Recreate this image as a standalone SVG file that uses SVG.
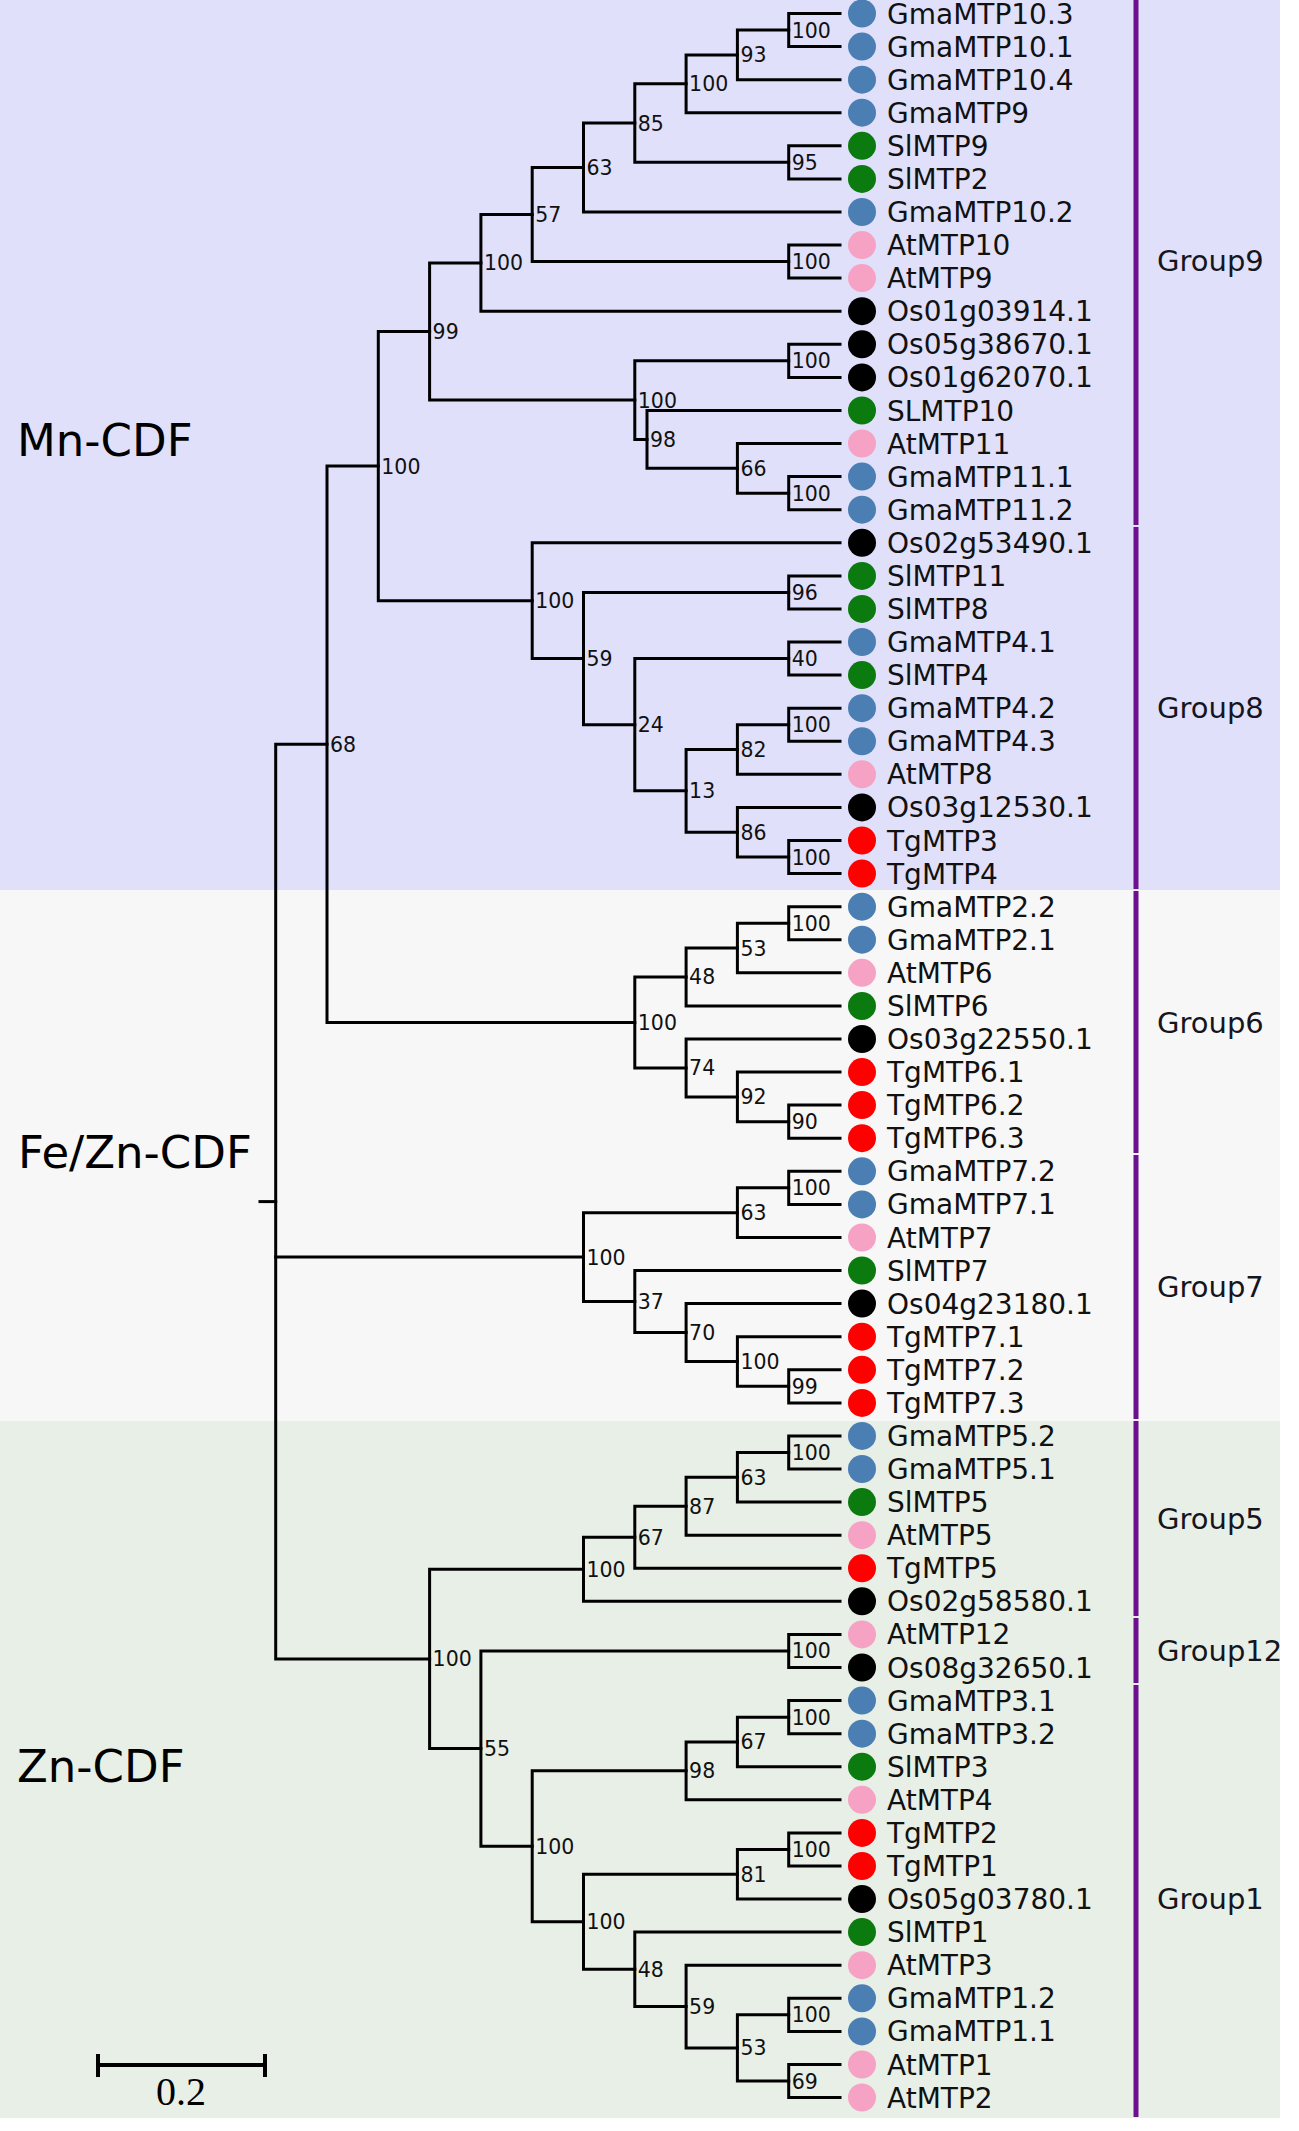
<svg xmlns="http://www.w3.org/2000/svg" width="1299" height="2131" viewBox="0 0 1299 2131">
<style>
.br{fill:none;stroke:#000;stroke-width:3;stroke-linecap:square}
.bs{font-family:"DejaVu Sans",sans-serif;font-size:20.5px;fill:#111}
.lb{font-family:"DejaVu Sans",sans-serif;font-size:28px;fill:#111}
.gl{font-family:"DejaVu Sans",sans-serif;font-size:29px;fill:#151520}
.cl{font-family:"DejaVu Sans",sans-serif;font-size:45px;fill:#000}
.B{fill:#4b7fb4}.G{fill:#0b7b0f}.P{fill:#f6a2c4}.K{fill:#000}.R{fill:#fe0000}
.pl{stroke:#6c1090;stroke-width:5}
</style>
<rect x="0" y="0" width="1299" height="2131" fill="#ffffff"/>
<g id="bands">
<rect x="0" y="0" width="1280" height="890" fill="#e0e0fb"/>
<rect x="0" y="890" width="1280" height="531" fill="#f8f7f7"/>
<rect x="0" y="1421" width="1280" height="697" fill="#e8efe6"/>
</g>
<g id="clade-labels">
<text class="cl" x="17" y="456">Mn-CDF</text>
<text class="cl" x="18" y="1168">Fe/Zn-CDF</text>
<text class="cl" x="17" y="1782">Zn-CDF</text>
</g>
<g id="group-bars">
<line class="pl" x1="1136" y1="0" x2="1136" y2="525"/>
<line class="pl" x1="1136" y1="527" x2="1136" y2="889"/>
<line class="pl" x1="1136" y1="891" x2="1136" y2="1153"/>
<line class="pl" x1="1136" y1="1155" x2="1136" y2="1419"/>
<line class="pl" x1="1136" y1="1421" x2="1136" y2="1616"/>
<line class="pl" x1="1136" y1="1618" x2="1136" y2="1683"/>
<line class="pl" x1="1136" y1="1685" x2="1136" y2="2117"/>
</g>
<g id="group-labels">
<text class="gl" x="1157" y="271">Group9</text>
<text class="gl" x="1157" y="718">Group8</text>
<text class="gl" x="1157" y="1033">Group6</text>
<text class="gl" x="1157" y="1297">Group7</text>
<text class="gl" x="1157" y="1529">Group5</text>
<text class="gl" x="1157" y="1661">Group12</text>
<text class="gl" x="1157" y="1909">Group1</text>
</g>
<g id="connectors" class="br">
<path d="M840 13.5H788.7V46.6H840"/>
<path d="M788.7 30.05H737.4V79.7H840"/>
<path d="M737.4 54.9H686.1V112.7H840"/>
<path d="M840 145.8H788.7V178.9H840"/>
<path d="M686.1 83.8H634.8V162.35H788.7"/>
<path d="M634.8 123.1H583.5V212H840"/>
<path d="M840 245.1H788.7V278.1H840"/>
<path d="M583.5 167.55H532.2V261.6H788.7"/>
<path d="M532.2 214.6H480.9V311.2H840"/>
<path d="M840 344.3H788.7V377.4H840"/>
<path d="M840 476.6H788.7V509.7H840"/>
<path d="M840 443.5H737.4V493.15H788.7"/>
<path d="M840 410.5H647V468.3H737.4"/>
<path d="M788.7 360.85H634.8V439.4H647"/>
<path d="M480.9 262.9H429.6V400.1H634.8"/>
<path d="M840 575.9H788.7V608.9H840"/>
<path d="M840 642H788.7V675.1H840"/>
<path d="M840 708.2H788.7V741.3H840"/>
<path d="M788.7 724.75H737.4V774.3H840"/>
<path d="M840 840.5H788.7V873.6H840"/>
<path d="M840 807.4H737.4V857.05H788.7"/>
<path d="M737.4 749.5H686.1V832.2H737.4"/>
<path d="M788.7 658.55H634.8V790.85H686.1"/>
<path d="M788.7 592.4H583.5V724.7H634.8"/>
<path d="M840 542.8H532.2V658.55H583.5"/>
<path d="M429.6 331.5H378.3V600.7H532.2"/>
<path d="M840 906.7H788.7V939.7H840"/>
<path d="M788.7 923.2H737.4V972.8H840"/>
<path d="M737.4 948H686.1V1005.9H840"/>
<path d="M840 1105.1H788.7V1138.2H840"/>
<path d="M840 1072.1H737.4V1121.65H788.7"/>
<path d="M840 1039H686.1V1096.9H737.4"/>
<path d="M686.1 976.95H634.8V1067.95H686.1"/>
<path d="M378.3 466.1H327V1022.45H634.8"/>
<path d="M840 1171.3H788.7V1204.4H840"/>
<path d="M788.7 1187.85H737.4V1237.5H840"/>
<path d="M840 1369.8H788.7V1402.9H840"/>
<path d="M840 1336.7H737.4V1386.35H788.7"/>
<path d="M840 1303.6H686.1V1361.5H737.4"/>
<path d="M840 1270.5H634.8V1332.55H686.1"/>
<path d="M737.4 1212.7H583.5V1301.5H634.8"/>
<path d="M840 1435.9H788.7V1469H840"/>
<path d="M788.7 1452.45H737.4V1502.1H840"/>
<path d="M737.4 1477.3H686.1V1535.2H840"/>
<path d="M686.1 1506.25H634.8V1568.3H840"/>
<path d="M634.8 1537.3H583.5V1601.3H840"/>
<path d="M840 1634.4H788.7V1667.5H840"/>
<path d="M840 1700.6H788.7V1733.7H840"/>
<path d="M788.7 1717.15H737.4V1766.7H840"/>
<path d="M737.4 1741.9H686.1V1799.8H840"/>
<path d="M840 1832.9H788.7V1866H840"/>
<path d="M788.7 1849.45H737.4V1899.1H840"/>
<path d="M840 1998.3H788.7V2031.4H840"/>
<path d="M840 2064.5H788.7V2097.5H840"/>
<path d="M788.7 2014.85H737.4V2081H788.7"/>
<path d="M840 1965.2H686.1V2047.9H737.4"/>
<path d="M840 1932.1H634.8V2006.55H686.1"/>
<path d="M737.4 1874.3H583.5V1969.3H634.8"/>
<path d="M686.1 1770.85H532.2V1921.8H583.5"/>
<path d="M788.7 1650.95H480.9V1846.3H532.2"/>
<path d="M583.5 1569.3H429.6V1748.6H480.9"/>
<path d="M327 744.3H275.7V1658.95H429.6"/>
<path d="M275.7 1257.1H583.5"/>
<path d="M260 1201.6H275.7"/>
</g>
<g id="bootstrap" class="bs">
<text x="791.7" y="37.55">100</text>
<text x="740.4" y="62.4">93</text>
<text x="689.1" y="91.3">100</text>
<text x="791.7" y="169.85">95</text>
<text x="637.8" y="130.6">85</text>
<text x="586.5" y="175.05">63</text>
<text x="791.7" y="269.1">100</text>
<text x="535.2" y="222.1">57</text>
<text x="483.9" y="270.4">100</text>
<text x="791.7" y="368.35">100</text>
<text x="791.7" y="500.65">100</text>
<text x="740.4" y="475.8">66</text>
<text x="650" y="446.9">98</text>
<text x="637.8" y="407.6">100</text>
<text x="432.6" y="339">99</text>
<text x="791.7" y="599.9">96</text>
<text x="791.7" y="666.05">40</text>
<text x="791.7" y="732.25">100</text>
<text x="740.4" y="757">82</text>
<text x="791.7" y="864.55">100</text>
<text x="740.4" y="839.7">86</text>
<text x="689.1" y="798.35">13</text>
<text x="637.8" y="732.2">24</text>
<text x="586.5" y="666.05">59</text>
<text x="535.2" y="608.2">100</text>
<text x="381.3" y="473.6">100</text>
<text x="791.7" y="930.7">100</text>
<text x="740.4" y="955.5">53</text>
<text x="689.1" y="984.45">48</text>
<text x="791.7" y="1129.15">90</text>
<text x="740.4" y="1104.4">92</text>
<text x="689.1" y="1075.45">74</text>
<text x="637.8" y="1029.95">100</text>
<text x="330" y="751.8">68</text>
<text x="791.7" y="1195.35">100</text>
<text x="740.4" y="1220.2">63</text>
<text x="791.7" y="1393.85">99</text>
<text x="740.4" y="1369">100</text>
<text x="689.1" y="1340.05">70</text>
<text x="637.8" y="1309">37</text>
<text x="586.5" y="1264.6">100</text>
<text x="791.7" y="1459.95">100</text>
<text x="740.4" y="1484.8">63</text>
<text x="689.1" y="1513.75">87</text>
<text x="637.8" y="1544.8">67</text>
<text x="586.5" y="1576.8">100</text>
<text x="791.7" y="1658.45">100</text>
<text x="791.7" y="1724.65">100</text>
<text x="740.4" y="1749.4">67</text>
<text x="689.1" y="1778.35">98</text>
<text x="791.7" y="1856.95">100</text>
<text x="740.4" y="1881.8">81</text>
<text x="791.7" y="2022.35">100</text>
<text x="791.7" y="2088.5">69</text>
<text x="740.4" y="2055.4">53</text>
<text x="689.1" y="2014.05">59</text>
<text x="637.8" y="1976.8">48</text>
<text x="586.5" y="1929.3">100</text>
<text x="535.2" y="1853.8">100</text>
<text x="483.9" y="1756.1">55</text>
<text x="432.6" y="1666.45">100</text>
</g>
<g id="leaves">
<g id="leaf01"><circle class="B" cx="862" cy="13.5" r="14"/><text class="lb" x="887" y="23.5">GmaMTP10.3</text></g>
<g id="leaf02"><circle class="B" cx="862" cy="46.6" r="14"/><text class="lb" x="887" y="56.6">GmaMTP10.1</text></g>
<g id="leaf03"><circle class="B" cx="862" cy="79.7" r="14"/><text class="lb" x="887" y="89.7">GmaMTP10.4</text></g>
<g id="leaf04"><circle class="B" cx="862" cy="112.7" r="14"/><text class="lb" x="887" y="122.7">GmaMTP9</text></g>
<g id="leaf05"><circle class="G" cx="862" cy="145.8" r="14"/><text class="lb" x="887" y="155.8">SlMTP9</text></g>
<g id="leaf06"><circle class="G" cx="862" cy="178.9" r="14"/><text class="lb" x="887" y="188.9">SlMTP2</text></g>
<g id="leaf07"><circle class="B" cx="862" cy="212" r="14"/><text class="lb" x="887" y="222">GmaMTP10.2</text></g>
<g id="leaf08"><circle class="P" cx="862" cy="245.1" r="14"/><text class="lb" x="887" y="255.1">AtMTP10</text></g>
<g id="leaf09"><circle class="P" cx="862" cy="278.1" r="14"/><text class="lb" x="887" y="288.1">AtMTP9</text></g>
<g id="leaf10"><circle class="K" cx="862" cy="311.2" r="14"/><text class="lb" x="887" y="321.2">Os01g03914.1</text></g>
<g id="leaf11"><circle class="K" cx="862" cy="344.3" r="14"/><text class="lb" x="887" y="354.3">Os05g38670.1</text></g>
<g id="leaf12"><circle class="K" cx="862" cy="377.4" r="14"/><text class="lb" x="887" y="387.4">Os01g62070.1</text></g>
<g id="leaf13"><circle class="G" cx="862" cy="410.5" r="14"/><text class="lb" x="887" y="420.5">SLMTP10</text></g>
<g id="leaf14"><circle class="P" cx="862" cy="443.5" r="14"/><text class="lb" x="887" y="453.5">AtMTP11</text></g>
<g id="leaf15"><circle class="B" cx="862" cy="476.6" r="14"/><text class="lb" x="887" y="486.6">GmaMTP11.1</text></g>
<g id="leaf16"><circle class="B" cx="862" cy="509.7" r="14"/><text class="lb" x="887" y="519.7">GmaMTP11.2</text></g>
<g id="leaf17"><circle class="K" cx="862" cy="542.8" r="14"/><text class="lb" x="887" y="552.8">Os02g53490.1</text></g>
<g id="leaf18"><circle class="G" cx="862" cy="575.9" r="14"/><text class="lb" x="887" y="585.9">SlMTP11</text></g>
<g id="leaf19"><circle class="G" cx="862" cy="608.9" r="14"/><text class="lb" x="887" y="618.9">SlMTP8</text></g>
<g id="leaf20"><circle class="B" cx="862" cy="642" r="14"/><text class="lb" x="887" y="652">GmaMTP4.1</text></g>
<g id="leaf21"><circle class="G" cx="862" cy="675.1" r="14"/><text class="lb" x="887" y="685.1">SlMTP4</text></g>
<g id="leaf22"><circle class="B" cx="862" cy="708.2" r="14"/><text class="lb" x="887" y="718.2">GmaMTP4.2</text></g>
<g id="leaf23"><circle class="B" cx="862" cy="741.3" r="14"/><text class="lb" x="887" y="751.3">GmaMTP4.3</text></g>
<g id="leaf24"><circle class="P" cx="862" cy="774.3" r="14"/><text class="lb" x="887" y="784.3">AtMTP8</text></g>
<g id="leaf25"><circle class="K" cx="862" cy="807.4" r="14"/><text class="lb" x="887" y="817.4">Os03g12530.1</text></g>
<g id="leaf26"><circle class="R" cx="862" cy="840.5" r="14"/><text class="lb" x="887" y="850.5">TgMTP3</text></g>
<g id="leaf27"><circle class="R" cx="862" cy="873.6" r="14"/><text class="lb" x="887" y="883.6">TgMTP4</text></g>
<g id="leaf28"><circle class="B" cx="862" cy="906.7" r="14"/><text class="lb" x="887" y="916.7">GmaMTP2.2</text></g>
<g id="leaf29"><circle class="B" cx="862" cy="939.7" r="14"/><text class="lb" x="887" y="949.7">GmaMTP2.1</text></g>
<g id="leaf30"><circle class="P" cx="862" cy="972.8" r="14"/><text class="lb" x="887" y="982.8">AtMTP6</text></g>
<g id="leaf31"><circle class="G" cx="862" cy="1005.9" r="14"/><text class="lb" x="887" y="1015.9">SlMTP6</text></g>
<g id="leaf32"><circle class="K" cx="862" cy="1039" r="14"/><text class="lb" x="887" y="1049">Os03g22550.1</text></g>
<g id="leaf33"><circle class="R" cx="862" cy="1072.1" r="14"/><text class="lb" x="887" y="1082.1">TgMTP6.1</text></g>
<g id="leaf34"><circle class="R" cx="862" cy="1105.1" r="14"/><text class="lb" x="887" y="1115.1">TgMTP6.2</text></g>
<g id="leaf35"><circle class="R" cx="862" cy="1138.2" r="14"/><text class="lb" x="887" y="1148.2">TgMTP6.3</text></g>
<g id="leaf36"><circle class="B" cx="862" cy="1171.3" r="14"/><text class="lb" x="887" y="1181.3">GmaMTP7.2</text></g>
<g id="leaf37"><circle class="B" cx="862" cy="1204.4" r="14"/><text class="lb" x="887" y="1214.4">GmaMTP7.1</text></g>
<g id="leaf38"><circle class="P" cx="862" cy="1237.5" r="14"/><text class="lb" x="887" y="1247.5">AtMTP7</text></g>
<g id="leaf39"><circle class="G" cx="862" cy="1270.5" r="14"/><text class="lb" x="887" y="1280.5">SlMTP7</text></g>
<g id="leaf40"><circle class="K" cx="862" cy="1303.6" r="14"/><text class="lb" x="887" y="1313.6">Os04g23180.1</text></g>
<g id="leaf41"><circle class="R" cx="862" cy="1336.7" r="14"/><text class="lb" x="887" y="1346.7">TgMTP7.1</text></g>
<g id="leaf42"><circle class="R" cx="862" cy="1369.8" r="14"/><text class="lb" x="887" y="1379.8">TgMTP7.2</text></g>
<g id="leaf43"><circle class="R" cx="862" cy="1402.9" r="14"/><text class="lb" x="887" y="1412.9">TgMTP7.3</text></g>
<g id="leaf44"><circle class="B" cx="862" cy="1435.9" r="14"/><text class="lb" x="887" y="1445.9">GmaMTP5.2</text></g>
<g id="leaf45"><circle class="B" cx="862" cy="1469" r="14"/><text class="lb" x="887" y="1479">GmaMTP5.1</text></g>
<g id="leaf46"><circle class="G" cx="862" cy="1502.1" r="14"/><text class="lb" x="887" y="1512.1">SlMTP5</text></g>
<g id="leaf47"><circle class="P" cx="862" cy="1535.2" r="14"/><text class="lb" x="887" y="1545.2">AtMTP5</text></g>
<g id="leaf48"><circle class="R" cx="862" cy="1568.3" r="14"/><text class="lb" x="887" y="1578.3">TgMTP5</text></g>
<g id="leaf49"><circle class="K" cx="862" cy="1601.3" r="14"/><text class="lb" x="887" y="1611.3">Os02g58580.1</text></g>
<g id="leaf50"><circle class="P" cx="862" cy="1634.4" r="14"/><text class="lb" x="887" y="1644.4">AtMTP12</text></g>
<g id="leaf51"><circle class="K" cx="862" cy="1667.5" r="14"/><text class="lb" x="887" y="1677.5">Os08g32650.1</text></g>
<g id="leaf52"><circle class="B" cx="862" cy="1700.6" r="14"/><text class="lb" x="887" y="1710.6">GmaMTP3.1</text></g>
<g id="leaf53"><circle class="B" cx="862" cy="1733.7" r="14"/><text class="lb" x="887" y="1743.7">GmaMTP3.2</text></g>
<g id="leaf54"><circle class="G" cx="862" cy="1766.7" r="14"/><text class="lb" x="887" y="1776.7">SlMTP3</text></g>
<g id="leaf55"><circle class="P" cx="862" cy="1799.8" r="14"/><text class="lb" x="887" y="1809.8">AtMTP4</text></g>
<g id="leaf56"><circle class="R" cx="862" cy="1832.9" r="14"/><text class="lb" x="887" y="1842.9">TgMTP2</text></g>
<g id="leaf57"><circle class="R" cx="862" cy="1866" r="14"/><text class="lb" x="887" y="1876">TgMTP1</text></g>
<g id="leaf58"><circle class="K" cx="862" cy="1899.1" r="14"/><text class="lb" x="887" y="1909.1">Os05g03780.1</text></g>
<g id="leaf59"><circle class="G" cx="862" cy="1932.1" r="14"/><text class="lb" x="887" y="1942.1">SlMTP1</text></g>
<g id="leaf60"><circle class="P" cx="862" cy="1965.2" r="14"/><text class="lb" x="887" y="1975.2">AtMTP3</text></g>
<g id="leaf61"><circle class="B" cx="862" cy="1998.3" r="14"/><text class="lb" x="887" y="2008.3">GmaMTP1.2</text></g>
<g id="leaf62"><circle class="B" cx="862" cy="2031.4" r="14"/><text class="lb" x="887" y="2041.4">GmaMTP1.1</text></g>
<g id="leaf63"><circle class="P" cx="862" cy="2064.5" r="14"/><text class="lb" x="887" y="2074.5">AtMTP1</text></g>
<g id="leaf64"><circle class="P" cx="862" cy="2097.5" r="14"/><text class="lb" x="887" y="2107.5">AtMTP2</text></g>
</g>
<g id="scale-bar">
<path d="M98 2065H265M98 2054V2077M265 2054V2077" fill="none" stroke="#000" stroke-width="4"/>
<text x="181" y="2105" text-anchor="middle" font-family="Liberation Serif, serif" font-size="40" fill="#000">0.2</text>
</g>
</svg>
